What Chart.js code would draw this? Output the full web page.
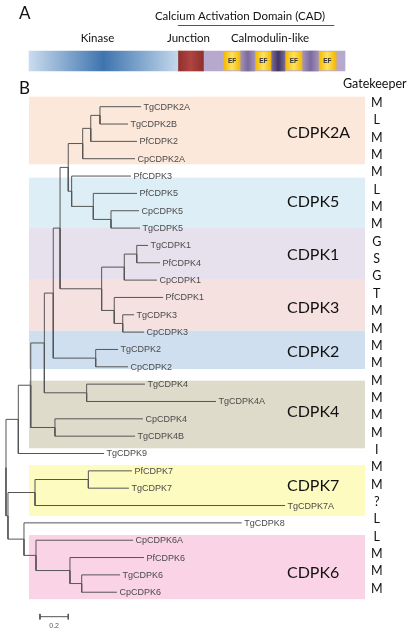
<!DOCTYPE html>
<html>
<head>
<meta charset="utf-8">
<script src="https://cdn.jsdelivr.net/npm/chart.js@4.4.1/dist/chart.umd.min.js"></script>
<style>
 body{margin:0;background:#fff;}
 #wrap{position:relative;width:415px;height:631px;overflow:hidden;}
 canvas{position:absolute;left:0;top:0;}
</style>
</head>
<body>
<div id="wrap">
 <canvas id="tree" width="415" height="631"></canvas>
 <canvas id="domains" width="415" height="82"></canvas>
</div>
<script>
// ---- panel A: domain layout (percent of protein length) ----
const domainNames=["Kinase","Junction","CaM","Link1","Link2","Link3","EF1","EF2","EF3","EF4"];
const domainStart=[0,47.1,55.2,67.0,76.8,86.6,61.5,71.5,81.0,91.6];
const domainEnd=[47.1,55.2,100,71.5,81.0,91.6,67.0,76.8,86.6,97.2];
const domainLabels=["Kinase","Junction","Calmodulin-like"];
const cadRange=[47.1,96.6];

// ---- panel B: tree (branch lengths from root) ----
const nodeIds=["R","A","B","C","D","E","F","G","H","I","J","K","L","M","N","O","P","Q","S","T","U","V","W","X","Y","Z","AA","AB"];
const nodeParent=[null,"R","R","B","C","D","E","F","G","H","I","G","K","L","F","N","O","N","Q","E","D","C","A","W","A","Y","Z","AA"];
const nodeDepth=[0,0.014,0.087,0.175,0.271,0.334,0.382,0.440,0.542,0.599,0.664,0.464,0.617,0.742,0.676,0.836,0.924,0.765,0.825,0.634,0.570,0.346,0.205,0.582,0.127,0.212,0.452,0.535];

const leafNames=["TgCDPK2A","TgCDPK2B","PfCDPK2","CpCDPK2A","PfCDPK3","PfCDPK5","CpCDPK5","TgCDPK5","TgCDPK1","PfCDPK4","CpCDPK1","PfCDPK1","TgCDPK3","CpCDPK3","TgCDPK2","CpCDPK2","TgCDPK4","TgCDPK4A","CpCDPK4","TgCDPK4B","TgCDPK9","PfCDPK7","TgCDPK7","TgCDPK7A","TgCDPK8","CpCDPK6A","PfCDPK6","TgCDPK6","CpCDPK6"];
const leafParent=["J","J","I","H","K","L","M","M","P","P","O","Q","S","S","T","T","U","U","V","V","B","X","X","W","Y","Z","AA","AB","AB"];
const leafDepth=[0.954,0.862,0.926,0.912,0.883,0.926,0.940,0.947,1.004,1.088,1.067,1.110,0.905,0.975,0.792,0.862,0.982,1.484,0.968,0.912,0.693,0.890,0.869,1.972,1.666,0.898,0.975,0.806,0.784];
const gatekeeper=["M","L","M","M","M","L","M","M","G","S","G","T","M","M","M","M","M","M","M","M","I","M","M","?","L","L","M","M","M"];

// clades (rows in leaf units)
const cladeNames=["CDPK2A","CDPK5","CDPK1","CDPK3","CDPK2","CDPK4","CDPK7","CDPK6"];
const cladeTop=[-0.58,4.09,7.0,9.94,12.92,15.8,20.66,24.7];
const cladeBottom=[3.32,7.0,9.94,12.92,15.13,19.7,23.59,28.4];
const cladeLabelRow=[1.52,5.48,8.55,11.61,14.13,17.59,21.87,26.9];
const scaleBar=0.2;

const cladeColors=["#fce8da","#ddeef6","#e7e1ee","#f5e1df","#cfdff0","#dfdbca","#fefbc0","#fad4e6"];
const FONT_C="Lato, 'Open Sans', sans-serif";
const FONT_A="'Liberation Sans', Arial, sans-serif";

// ---------- tree layout ----------
const depth={},ypos={},kids={};
nodeIds.forEach((id,i)=>{depth[id]=nodeDepth[i];kids[id]=[];});
nodeIds.forEach((id,i)=>{if(nodeParent[i])kids[nodeParent[i]].push(id);});
leafNames.forEach((n,i)=>{depth[n]=leafDepth[i];ypos[n]=i;kids[leafParent[i]].push(n);});
function rowOf(id){
 if(ypos[id]!==undefined)return ypos[id];
 const c=kids[id].map(rowOf);
 return ypos[id]=c.reduce((a,b)=>a+b,0)/c.length;
}
rowOf("R");

const branchPts=[];
const parentOf={};
nodeIds.forEach((id,i)=>{if(nodeParent[i])parentOf[id]=nodeParent[i];});
leafNames.forEach((n,i)=>parentOf[n]=leafParent[i]);
Object.keys(parentOf).forEach(c=>{
 const p=parentOf[c];
 branchPts.push({x:depth[p],y:ypos[p]},{x:depth[p],y:ypos[c]},{x:depth[c],y:ypos[c]},{x:NaN,y:NaN});
});

const barX=0.24,barRow=29.41;
const scalePts=[
 {x:barX,y:barRow},{x:barX+scaleBar,y:barRow},{x:NaN,y:NaN},
 {x:barX,y:barRow-0.16},{x:barX,y:barRow+0.16},{x:NaN,y:NaN},
 {x:barX+scaleBar,y:barRow-0.16},{x:barX+scaleBar,y:barRow+0.16}
];

const treeDeco={
 id:"treeDeco",
 beforeDatasetsDraw(chart){
   const {ctx,scales:{x,y}}=chart;
   const l=x.getPixelForValue(0.1625),r=x.getPixelForValue(2.537);
   ctx.save();
   cladeNames.forEach((n,i)=>{
     const t=y.getPixelForValue(cladeTop[i]),b=y.getPixelForValue(cladeBottom[i]);
     ctx.fillStyle=cladeColors[i];
     ctx.fillRect(l,t,r-l,b-t);
   });
   ctx.restore();
 },
 afterDatasetsDraw(chart){
   const {ctx,scales:{x,y}}=chart;
   ctx.save();
   ctx.textBaseline="middle";
   // leaf names
   ctx.fillStyle="#4a4a4a";ctx.font="9px "+FONT_A;ctx.textAlign="left";
   leafNames.forEach((n,i)=>ctx.fillText(n,x.getPixelForValue(leafDepth[i])+2.5,y.getPixelForValue(i)+0.5));
   // clade names
   ctx.fillStyle="#111";ctx.font="16px "+FONT_C;
   cladeNames.forEach((n,i)=>ctx.fillText(n,x.getPixelForValue(1.986),y.getPixelForValue(cladeLabelRow[i])));
   // gatekeeper column
   ctx.textAlign="center";ctx.font="12.5px "+FONT_C;
   gatekeeper.forEach((g,i)=>ctx.fillText(g,x.getPixelForValue(2.62),y.getPixelForValue(i-0.21)));
   ctx.textAlign="left";ctx.font="12.5px "+FONT_C;
   ctx.fillText("Gatekeeper",343,84);
   ctx.font="17px "+FONT_C;
   ctx.fillText("B",19,89);
   // scale bar label
   ctx.textAlign="center";ctx.fillStyle="#555";ctx.font="7px "+FONT_A;
   ctx.fillText(String(scaleBar),x.getPixelForValue(barX+scaleBar/2),y.getPixelForValue(barRow)+9);
   ctx.restore();
 }
};

new Chart(document.getElementById("tree"),{
 type:"scatter",
 data:{datasets:[
   {data:branchPts,showLine:true,borderColor:"#555",borderWidth:1,pointRadius:0,spanGaps:false},
   {data:scalePts,showLine:true,borderColor:"#555",borderWidth:1,pointRadius:0,spanGaps:false}
 ]},
 options:{
   animation:false,responsive:false,events:[],
   layout:{padding:0,autoPadding:false},
   plugins:{legend:{display:false},tooltip:{enabled:false}},
   scales:{
     x:{type:"linear",min:-0.0424,max:2.8905,display:false},
     y:{type:"linear",min:-6.153,max:30.236,reverse:true,display:false}
   }
 },
 plugins:[treeDeco]
});

// ---------- panel A ----------
const segStyle={
 Kinase:[[0,"#cadcef"],[0.5,"#3e74ae"],[1,"#c3d7eb"]],
 Junction:[[0,"#8e302e"],[0.5,"#b04440"],[1,"#8e302e"]],
 CaM:[[0,"#b7a8cd"],[1,"#b7a8cd"]],
 Link1:[[0,"#a293bd"],[0.5,"#7b6a9a"],[1,"#a293bd"]],
 Link2:[[0,"#7a6a98"],[0.5,"#3f3663"],[1,"#7a6a98"]],
 Link3:[[0,"#a293bd"],[0.5,"#7b6a9a"],[1,"#a293bd"]],
 EF:[[0,"#f2b700"],[0.5,"#ffe25c"],[1,"#f2b700"]]
};
function segFill(i){
 return c=>{
   const ch=c.chart,sx=ch.scales.x;
   const stops=segStyle[domainNames[i].startsWith("EF")?"EF":domainNames[i]];
   if(!ch.chartArea||!sx)return stops[1][1];
   const g=ch.ctx.createLinearGradient(sx.getPixelForValue(domainStart[i]),0,sx.getPixelForValue(domainEnd[i]),0);
   stops.forEach(s=>g.addColorStop(s[0],s[1]));
   return g;
 };
}

const domainDeco={
 id:"domainDeco",
 afterDatasetsDraw(chart){
   const {ctx,scales:{x}}=chart;
   ctx.save();
   ctx.textBaseline="middle";ctx.textAlign="center";
   ctx.fillStyle="#333";ctx.font="bold 6.5px "+FONT_A;
   domainNames.forEach((n,i)=>{
     if(n.startsWith("EF"))ctx.fillText("EF",x.getPixelForValue((domainStart[i]+domainEnd[i])/2),61);
   });
   ctx.fillStyle="#111";ctx.font="11.5px "+FONT_C;
   ctx.fillText("Calcium Activation Domain (CAD)",240,16);
   [97.5,188.5,270].forEach((cx,i)=>ctx.fillText(domainLabels[i],cx,38.5));
   ctx.textAlign="left";ctx.font="17px "+FONT_C;
   ctx.fillText("A",19,14);
   ctx.strokeStyle="#555";ctx.lineWidth=1;
   ctx.beginPath();
   ctx.moveTo(x.getPixelForValue(cadRange[0]),25.5);
   ctx.lineTo(x.getPixelForValue(cadRange[1]),25.5);
   ctx.stroke();
   ctx.restore();
 }
};

new Chart(document.getElementById("domains"),{
 type:"bar",
 data:{labels:["CDPK"],datasets:domainNames.map((n,i)=>({
   label:n,data:[[domainStart[i],domainEnd[i]]],
   backgroundColor:segFill(i),borderWidth:0,grouped:false,
   order:n==="CaM"?2:1,
   barThickness:n.startsWith("EF")?18:20
 }))},
 options:{
   indexAxis:"y",animation:false,responsive:false,events:[],
   layout:{padding:{top:40,left:0,right:0,bottom:0},autoPadding:false},
   plugins:{legend:{display:false},tooltip:{enabled:false}},
   scales:{
     x:{type:"linear",min:-9.177,max:122.15,display:false},
     y:{display:false}
   }
 },
 plugins:[domainDeco]
});
</script>
</body>
</html>
